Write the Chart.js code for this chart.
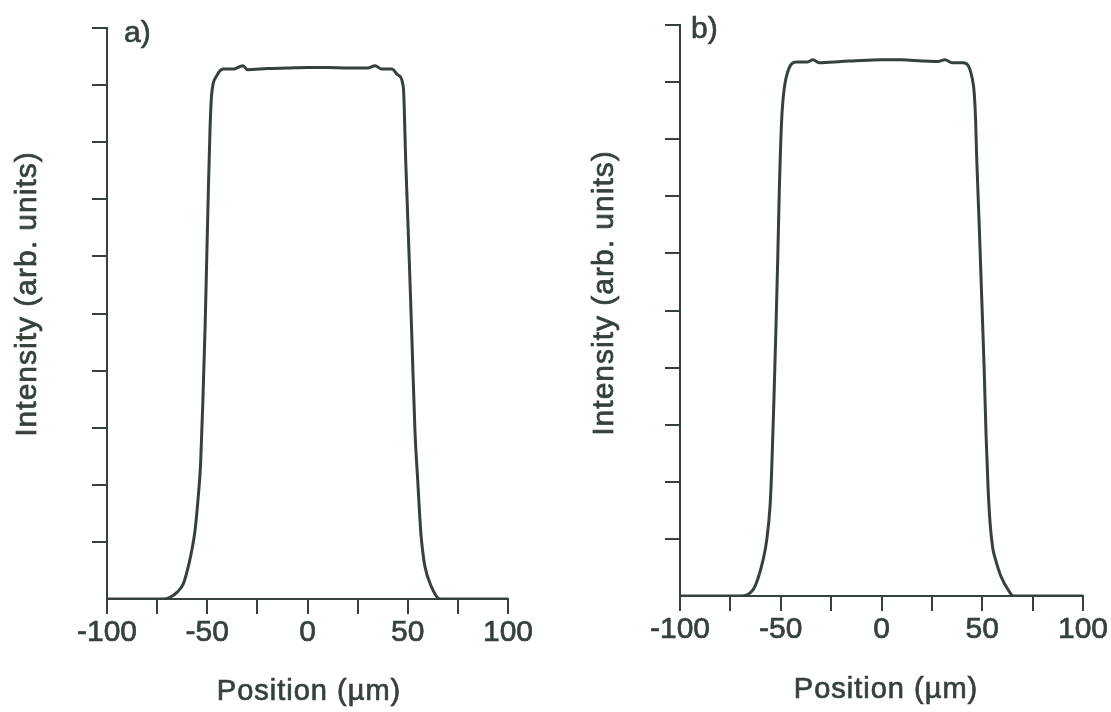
<!DOCTYPE html>
<html>
<head>
<meta charset="utf-8">
<script src="https://cdn.jsdelivr.net/npm/chart.js@4.4.1/dist/chart.umd.min.js"></script>
<style>
    html, body { margin: 0; padding: 0; background: #fff; }
    body { width: 1111px; height: 712px; position: relative; overflow: hidden; }
    .panel { position: absolute; top: 0; height: 712px; }
    #wrapA { left: 0; width: 556px; }
    #wrapB { left: 556px; width: 555px; }
</style>
</head>
<body>
<div class="panel" id="wrapA"><canvas id="chartA" width="556" height="712"></canvas></div>
<div class="panel" id="wrapB"><canvas id="chartB" width="555" height="712"></canvas></div>
<script>
// panel a) profile
const posA = [-100, -80, -72, -68.6, -65, -61.9, -59.1, -57.4, -56.1, -54.5, -53.3, -52.1, -51.1, -50.3, -49.5, -48.6, -47.8, -45.3, -42.0,
    -37, -32.2, -30, -20, -10, 0, 10, 20, 30, 33.7, 37, 42.1,
    45, 47.8, 49.0, 50.8, 52.2, 53.6, 55.0, 56.5, 57.3, 58.5, 61.6, 66.1, 70, 80, 100];
const intA = [0, 0, 0, 0.03, 0.12, 0.27, 0.62, 0.91, 1.2, 1.79, 2.38, 3.56, 4.73, 5.9, 7.08, 8.25, 8.84, 9.16, 9.28,
    9.28, 9.34, 9.27, 9.29, 9.3, 9.31, 9.31, 9.3, 9.3, 9.34, 9.28, 9.28,
    9.18, 8.96, 7.66, 5.89, 4.42, 2.94, 2.06, 1.17, 0.88, 0.58, 0.23, 0, 0, 0, 0];

// panel b) profile
const posB = [-100, -80, -70, -66.7, -62.8, -58.6, -57.0, -55.3, -54.5, -53.4, -52.4, -51.5, -50.7, -49.5, -47.1, -42.1,
    -37, -34, -31, -20, -10, 0, 10, 20, 28, 31.5, 35, 40.4,
    45.6, 46.7, 47.2, 48.5, 49.7, 50.9, 51.9, 52.9, 53.9, 55.2, 56.5, 59.2, 63.0, 65.4, 70, 80, 100];
const intB = [0, 0, 0, 0.02, 0.17, 0.66, 0.97, 1.58, 2.2, 3.43, 4.67, 5.9, 7.13, 8.37, 9.11, 9.35,
    9.35, 9.39, 9.34, 9.36, 9.38, 9.39, 9.39, 9.37, 9.36, 9.39, 9.34, 9.34,
    8.95, 8.34, 7.72, 6.49, 5.26, 4.03, 2.81, 1.88, 1.27, 0.84, 0.65, 0.35, 0.1, 0, 0, 0, 0];

const xLabelSteps = [-100, -50, 0, 50, 100];
const xTitle = 'Position (µm)';
const yTitle = 'Intensity (arb. units)';

const INK = '#35413a';
const FONT = '"Liberation Sans", Arial, sans-serif';

const panelText = {
    id: 'panelText',
    afterDraw(chart, args, opts) {
        const ctx = chart.ctx;
        ctx.save();
        ctx.fillStyle = INK;
        ctx.strokeStyle = INK;
        ctx.lineWidth = 0.7;
        ctx.font = '29px ' + FONT;
        ctx.letterSpacing = '1px';
        ctx.textAlign = 'center';
        ctx.textBaseline = 'middle';
        ctx.fillText(xTitle, opts.xTitleX, opts.xTitleY);
        ctx.strokeText(xTitle, opts.xTitleX, opts.xTitleY);

        ctx.save();
        ctx.translate(opts.yTitleX, opts.yTitleY);
        ctx.rotate(-Math.PI / 2);
        ctx.font = '30px ' + FONT;
        ctx.textBaseline = 'alphabetic';
        ctx.fillText(yTitle, 0, 0);
        ctx.strokeText(yTitle, 0, 0);
        ctx.restore();

        ctx.letterSpacing = '0px';
        ctx.font = '30px ' + FONT;
        ctx.textAlign = 'left';
        ctx.textBaseline = 'alphabetic';
        ctx.fillText(opts.label, opts.labelX, opts.labelY);
        ctx.strokeText(opts.label, opts.labelX, opts.labelY);
        ctx.restore();
    }
};

const createPanel = (id, xs, ys, geo) => {
    const ctx = document.getElementById(id);
    const width = ctx.width;

    return new Chart(ctx, {
        type: 'line',
        data: {
            datasets: [{
                data: xs.map((x, i) => ({ x: x, y: ys[i] })),
                borderColor: INK,
                borderWidth: 3,
                pointRadius: 0,
                fill: false,
                cubicInterpolationMode: 'monotone'
            }]
        },
        options: {
            responsive: false,
            animation: false,
            layout: {
                padding: { left: 0, top: geo.top, right: width - geo.right, bottom: 0 }
            },
            plugins: {
                legend: { display: false },
                tooltip: { enabled: false },
                panelText: geo.text
            },
            scales: {
                x: {
                    type: 'linear',
                    min: -100,
                    max: 100,
                    afterFit: (s) => { s.height = 712 - geo.bottom; },
                    border: { display: true, color: INK, width: 2 },
                    grid: {
                        drawOnChartArea: false,
                        drawTicks: true,
                        tickLength: 15,
                        color: INK,
                        lineWidth: 2
                    },
                    ticks: {
                        stepSize: 25,
                        autoSkip: false,
                        maxRotation: 0,
                        padding: 1,
                        color: INK,
                        textStrokeColor: INK,
                        textStrokeWidth: 0.7,
                        font: { family: FONT, size: 30 },
                        callback: (v) => xLabelSteps.includes(v) ? String(v) : ''
                    }
                },
                y: {
                    type: 'linear',
                    min: 0,
                    max: 10,
                    afterFit: (s) => { s.width = geo.left; },
                    border: { display: true, color: INK, width: 2 },
                    grid: {
                        drawOnChartArea: false,
                        drawTicks: true,
                        tickLength: 15,
                        lineWidth: 2,
                        color: (c) => (c.tick && c.tick.value === 0) ? 'rgba(0,0,0,0)' : INK
                    },
                    ticks: { stepSize: 1, display: false }
                }
            }
        },
        plugins: [panelText]
    });
};

createPanel('chartA', posA, intA, {
    left: 107, right: 508, top: 28, bottom: 599,
    text: { label: 'a)', labelX: 124, labelY: 42, xTitleX: 309, xTitleY: 692, yTitleX: 36, yTitleY: 294 }
});

createPanel('chartB', posB, intB, {
    left: 124, right: 527, top: 25, bottom: 596,
    text: { label: 'b)', labelX: 135, labelY: 38, xTitleX: 330, xTitleY: 690, yTitleX: 57, yTitleY: 293 }
});
</script>
</body>
</html>
